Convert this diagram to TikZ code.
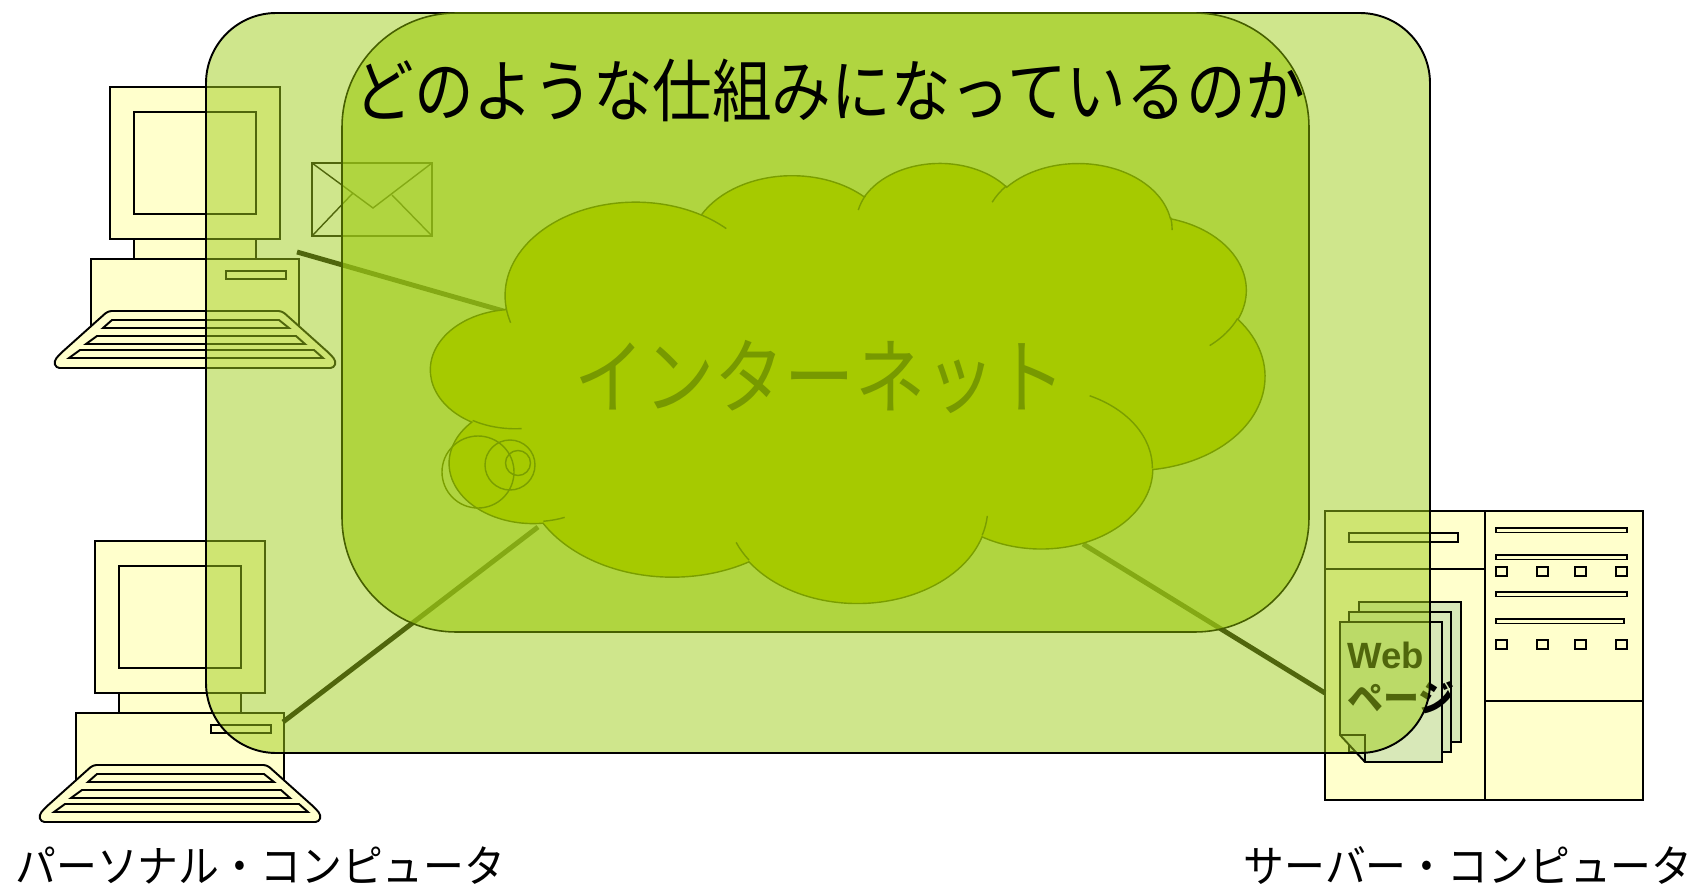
\documentclass[tikz,border=0pt]{standalone}
\usepackage{fontspec}
\newfontfamily\jpfont{Noto Sans CJK JP}
\newfontfamily\webfont{Liberation Sans}
\definecolor{clipyellow}{RGB}{255,255,204}
\definecolor{docgreen}{RGB}{216,232,184}
\definecolor{panelgreen}{RGB}{160,205,25}
\definecolor{panelline}{RGB}{70,95,0}
\definecolor{cloudgreen}{RGB}{166,202,0}
\definecolor{cloudline}{RGB}{122,158,0}
\definecolor{nettext}{RGB}{119,153,0}
\tikzset{
    clipart/.style={draw=black,line width=1.1pt,fill=clipyellow},
    pages/.style={draw=black,line width=1.1pt,fill=docgreen},
    link/.style={draw=black,line width=2.8pt},
    jptext/.style={inner sep=0pt,font=\jpfont},
    pics/pc/.style={code={
        \draw[clipart] (-19,172) rectangle (189,240);
        \draw[clipart] (116,184) rectangle (176,192);
        \draw[clipart] (24,152) rectangle (146,172);
        \draw[clipart] (0,0) rectangle (170,152);
        \draw[clipart] (24,25) rectangle (146,127);
        \draw[clipart,rounded corners=2pt] (-2,224) -- (172,224) -- (220,267) -- (226,274) -- (224,281)
            -- (-54,281) -- (-56,274) -- (-50,267) -- cycle;
        \foreach \t/\b/\tl/\tr/\bl/\br in {233/241/2/169/-7/179,249/257/-13/186/-24/195,263/271/-30/204/-41/213}
            \draw[clipart] (\tl,\t) -- (\tr,\t) -- (\br,\b) -- (\bl,\b) -- cycle;
    }},
    % arc of the cloud outline: x radius, y radius, start angle, sweep (true angles)
    cloud arc/.code n args={4}{%
        \pgfmathsetmacro\cloudfrom{atan2(#1*sin(#3),#2*cos(#3))}%
        \pgfmathsetmacro\cloudto{atan2(#1*sin(#3+#4),#2*cos(#3+#4))}%
        \pgfmathsetmacro\cloudto{\cloudto<\cloudfrom ? \cloudto+360 : \cloudto}%
        \edef\cloudkeys{x radius=#1,y radius=#2,start angle=\cloudfrom,end angle=\cloudto}%
        \expandafter\pgfkeysalso\expandafter{\cloudkeys}},
}

\begin{document}
\begin{tikzpicture}[x=0.02cm,y=-0.02cm]
    \useasboundingbox (0,0) rectangle (1698,889);
    %PC
    \pic at (110,87) {pc};
    \pic at (95,541) {pc};
    %SERVER
    \draw[clipart] (1325,511) rectangle (1485,800);
    \draw[clipart] (1485,511) rectangle (1643,800);
    \draw[line width=1.1pt] (1325,569) -- (1485,569);
    \draw[line width=1.1pt] (1485,701) -- (1643,701);
    \draw[clipart] (1349,533) rectangle (1458,542);
    \foreach \y/\e in {528/1627,555/1627,592/1627,619/1624}
        \draw[clipart,line width=0.9pt] (1496,\y) rectangle (\e,\y+4.5);
    \foreach \y in {567,640}
        \foreach \x in {1496,1537,1575,1616}
            \draw[clipart,line width=0.9pt] (\x,\y) rectangle (\x+11,\y+9);
    %WEB PAGES
    \draw[pages] (1359,602) rectangle (1461,742);
    \draw[pages] (1349,612) rectangle (1451,752);
    \draw[pages] (1340,622) -- (1442,622) -- (1442,762) -- (1365,762) -- (1340,735) -- cycle;
    \draw[line width=1.1pt] (1340,735) -- (1365,735) -- (1365,762);
    \node[inner sep=0pt,anchor=base west,font=\webfont\bfseries\fontsize{20.8}{24}\selectfont] (web) at (1347,668) {Web};
    \node[jptext,anchor=base west,font=\jpfont\bfseries\fontsize{20.5}{24}\selectfont] (page) at (1347,711) {ページ};
    %MAIL
    \draw[line width=0.8pt] (312,163) rectangle (432,236);
    \draw[line width=0.8pt] (312,163) -- (373,208) -- (432,163);
    \draw[line width=0.8pt] (312,236) -- (353,193) (432,236) -- (392,195);
    %LINKS
    \coordinate (portA) at (297,252);
    \coordinate (portB) at (283,722);
    \coordinate (portS) at (1325,693);
    \coordinate (netA) at (507,312);
    \coordinate (netB) at (538,527);
    \coordinate (netS) at (1083,544);
    \draw[link] (portA) -- (netA);
    \draw[link] (portB) -- (netB);
    \draw[link] (netS) -- (portS);
    %PANELS
    \draw[fill=panelgreen,fill opacity=0.5,line width=1.1pt,rounded corners=40pt] (206,13) rectangle (1430,753);
    \draw[fill=panelgreen,fill opacity=0.66,draw=panelline,line width=0.9pt,rounded corners=65pt] (342,13) rectangle (1309,632);
    %CLOUD
    \begin{scope}[shift={(431,162)},x=0.038611cm,y=-0.02037cm,draw=cloudline,line width=0.8pt]
        \draw[fill=cloudgreen] (39.00,143.70)
            arc[cloud arc={67.53}{91.90}{-190.4875}{123.7805}]
            arc[cloud arc={53.33}{72.67}{-144.1024}{89.9452}]
            arc[cloud arc={43.65}{59.45}{-145.8079}{99.7230}]
            arc[cloud arc={48.57}{65.95}{-130.9861}{117.2417}]
            arc[cloud arc={53.33}{72.73}{-78.7089}{109.0269}]
            arc[cloud arc={67.75}{92.20}{-46.2673}{130.2690}]
            arc[cloud arc={57.85}{78.67}{0.6250}{114.0333}]
            arc[cloud arc={67.52}{92.15}{22.4516}{115.1726}]
            arc[cloud arc={77.20}{105.43}{66.2426}{75.7110}]
            arc[cloud arc={43.60}{59.18}{-274.9421}{146.7356}]
            arc[cloud arc={43.45}{59.45}{-246.8285}{152.5189}] -- cycle;
        \draw (46.93,261.77) arc[cloud arc={43.45}{59.45}{86.7420}{26.4295}]
            (69.28,348.99) arc[cloud arc={43.60}{59.18}{73.6105}{11.4475}]
            (164.78,390.90) arc[cloud arc={67.52}{92.15}{137.6242}{14.0811}]
            (288.27,347.51) arc[cloud arc={67.52}{92.15}{6.4533}{15.9984}]
            (341.29,229.54) arc[cloud arc={57.85}{78.67}{-70.2924}{70.9174}]
            (417.98,153.54) arc[cloud arc={53.33}{72.73}{30.3180}{27.7515}]
            (383.24,54.26) arc[cloud arc={48.57}{65.95}{-13.7443}{14.8604}]
            (290.78,39.52) arc[cloud arc={48.57}{65.95}{-149.1815}{18.1970}]
            (221.41,47.20) arc[cloud arc={43.65}{59.45}{-163.4943}{17.6864}]
            (140.00,51.92) arc[cloud arc={67.53}{91.90}{-66.7070}{12.3194}]
            (41.27,157.89) arc[cloud arc={67.53}{91.90}{157.6544}{11.8582}];
    \end{scope}
    % thought bubbles, outlines only
    \draw[draw=cloudline,line width=0.8pt] (478,472) circle[radius=36] (510,465) circle[radius=25] (518,463) circle[radius=12.5];
    \node[jptext,text=nettext,xscale=0.85,font=\jpfont\fontsize{47}{50}\selectfont] (net) at (820,377) {インターネット};
    %TEXTS
    \node[jptext,xscale=0.87,font=\jpfont\fontsize{39}{42}\selectfont] (title) at (830,91) {どのような仕組みになっているのか};
    \node[jptext,anchor=west,xscale=0.93,font=\jpfont\fontsize{25}{28}\selectfont] (pclabel) at (15,866) {パーソナル・コンピュータ};
    \node[jptext,anchor=east,xscale=0.93,font=\jpfont\fontsize{25}{28}\selectfont] (srvlabel) at (1693,866) {サーバー・コンピュータ};
\end{tikzpicture}
\end{document}
